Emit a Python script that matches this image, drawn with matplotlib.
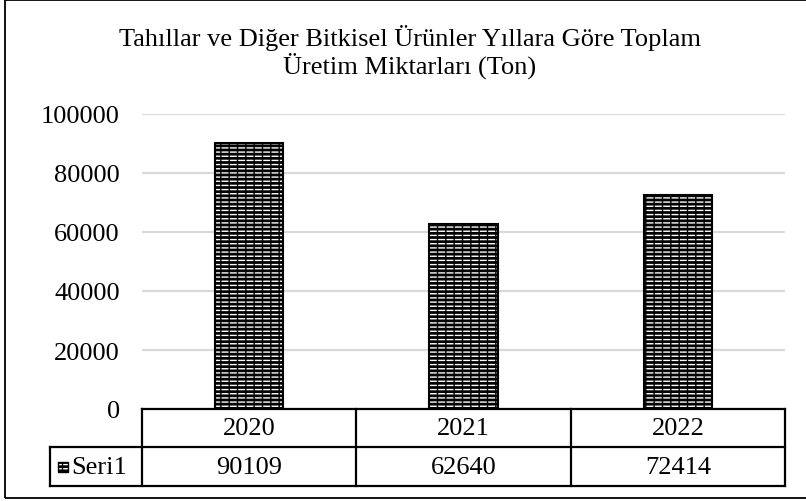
import matplotlib
matplotlib.use("Agg")
import matplotlib.pyplot as plt
import matplotlib.transforms as mtransforms
from matplotlib.patches import Rectangle
from matplotlib.lines import Line2D

# data
years = ["2020", "2021", "2022"]
values = [90109, 62640, 72414]
series_name = "Seri1"
y_ticks = [0, 20000, 40000, 60000, 80000, 100000]
title = "Tahıllar ve Diğer Bitkisel Ürünler Yıllara Göre Toplam\nÜretim Miktarları (Ton)"

W, H = 806, 502
plt.rcParams["font.family"] = ["Liberation Serif", "DejaVu Serif"]
plt.rcParams["hatch.linewidth"] = 1.0
FS = 19

fig = plt.figure(figsize=(W / 100, H / 100), dpi=100)


def fx(px):
    return px / W


def fy(py):
    return 1 - py / H


# plot area in pixel terms: x 142..785, y 115 (100000) .. 410 (0)
ax = fig.add_axes([fx(142), fy(410), fx(785 - 142), fy(115) - fy(410)])
x = list(range(len(years)))

# brick-like pattern: white dashes on black, broken by black verticals
ax.bar(x, values, width=0.32, color="black", edgecolor="white", hatch="----",
       linewidth=0, zorder=3)
ax.bar(x, values, width=0.32, color="none", edgecolor="black", hatch="||",
       linewidth=0, zorder=4)
ax.bar(x, values, width=0.32, color="none", edgecolor="black", linewidth=1.5,
       zorder=5)

ax.set_xlim(-0.5, len(years) - 0.5)
ax.set_ylim(0, 100000)
ax.set_yticks(y_ticks)
ax.set_yticklabels([str(v) for v in y_ticks], fontsize=FS)
ax.tick_params(axis="y", length=0, pad=16)
ax.set_xticks([])
ax.grid(axis="y", color="#d9d9d9", lw=1.6, zorder=0)
for sp in ax.spines.values():
    sp.set_visible(False)

# data table under the plot
trans = mtransforms.blended_transform_factory(ax.transData, ax.transAxes)
ax_h = 410 - 115
unit_px = (785 - 142) / len(years)
r1 = -38 / ax_h
r2 = -77 / ax_h
x_left = -0.5 - 92 / unit_px
lw = 1.6
table_lines = [
    ([-0.5, len(years) - 0.5], [0, 0]),
    ([x_left, len(years) - 0.5], [r1, r1]),
    ([x_left, len(years) - 0.5], [r2, r2]),
    ([x_left, x_left], [r1, r2]),
]
for i in range(len(years) + 1):
    table_lines.append(([i - 0.5, i - 0.5], [0, r2]))
for xs, ys in table_lines:
    ax.add_line(Line2D(xs, ys, transform=trans, color="black", lw=lw,
                       clip_on=False, zorder=6))

for i, (yr, v) in enumerate(zip(years, values)):
    ax.text(i, r1 / 2, yr, transform=trans, ha="center", va="center",
            fontsize=FS)
    ax.text(i, (r1 + r2) / 2, str(v), transform=trans, ha="center",
            va="center", fontsize=FS)

# legend key in the table
key_x = x_left + 8 / unit_px
key_w = 10 / unit_px
key_h = 10 / ax_h
key_y = (r1 + r2) / 2 - key_h / 2
ax.add_patch(Rectangle((key_x, key_y), key_w, key_h,
                       transform=trans, facecolor="black", edgecolor="white",
                       hatch="----", lw=0, clip_on=False, zorder=6))
ax.add_patch(Rectangle((key_x, key_y), key_w, key_h,
                       transform=trans, facecolor="none", edgecolor="black",
                       hatch="||", lw=1, clip_on=False, zorder=7))
ax.text(key_x + key_w + 3 / unit_px, (r1 + r2) / 2, series_name,
        transform=trans, ha="left", va="center", fontsize=FS)

fig.text(fx(410), fy(52), title, ha="center", va="center", fontsize=FS,
         linespacing=1.1)

# outer chart border
fig.add_artist(Rectangle((fx(5), fy(499)), 1.0, fy(1) - fy(499),
                         transform=fig.transFigure, fill=False,
                         edgecolor="black", lw=1.3))

fig.savefig("out.png", dpi=100)
